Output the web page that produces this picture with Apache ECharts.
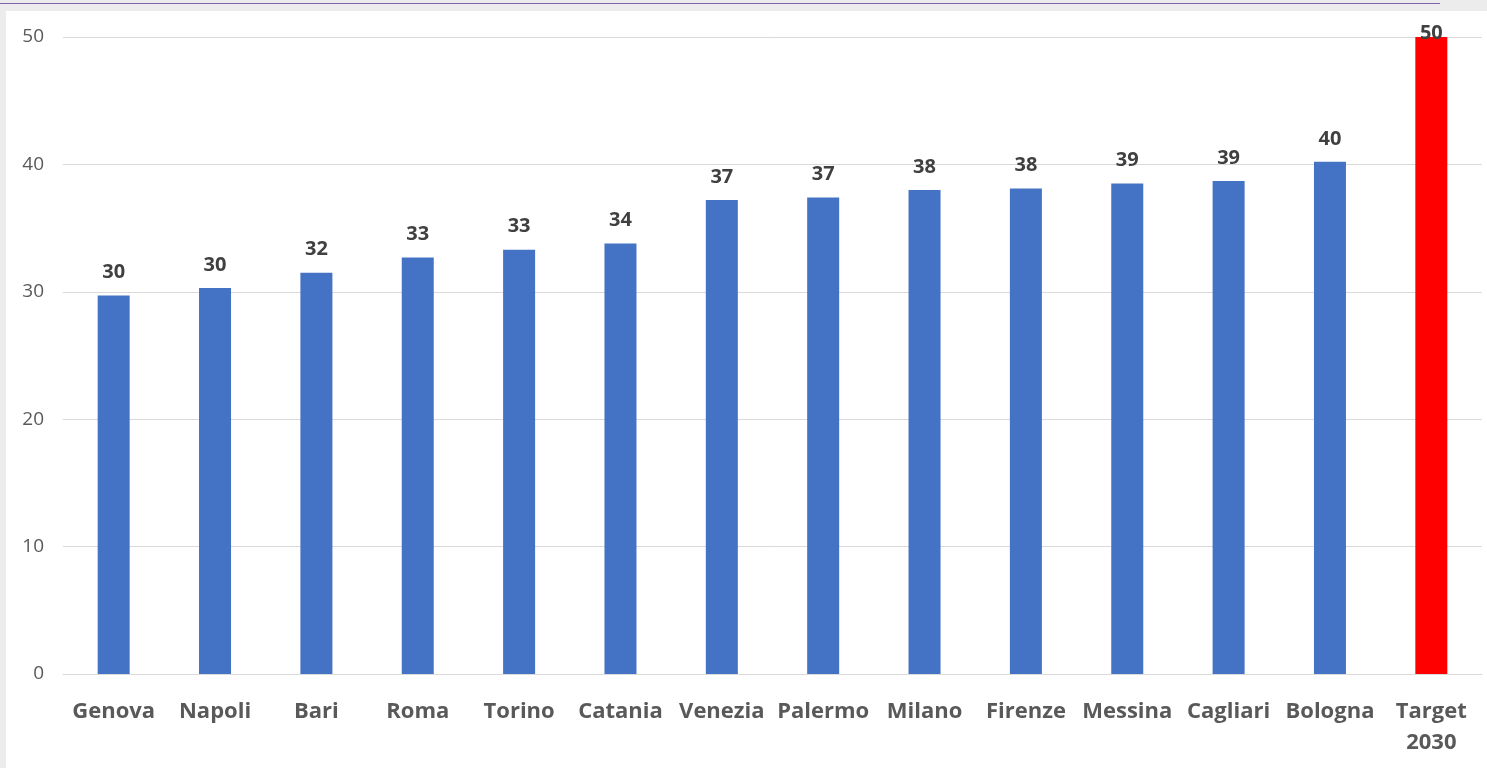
<!DOCTYPE html>
<html>
<head>
<meta charset="utf-8">
<script src="https://cdn.jsdelivr.net/npm/echarts@6/dist/echarts.min.js"></script>
<style>
html,body{margin:0;padding:0;background:#ececec;width:1487px;height:768px;overflow:hidden;}
#topline{position:absolute;left:0;top:3px;width:1440px;height:1px;background:#7f62b0;}
#chart{position:absolute;left:6px;top:11px;width:1481px;height:757px;background:#fff;}
</style>
</head>
<body>
<div id="topline"></div>
<div id="chart"></div>
<script>
const categories = ['Genova','Napoli','Bari','Roma','Torino','Catania','Venezia','Palermo','Milano','Firenze','Messina','Cagliari','Bologna','Target\n2030'];
const values = [29.7, 30.3, 31.5, 32.7, 33.3, 33.8, 37.2, 37.4, 38.0, 38.1, 38.5, 38.7, 40.2, 50];
const yTicks = {min: 0, max: 50, interval: 10};

const chart = echarts.init(document.getElementById('chart'));
const data = values.map((v, i) => {
  const isTarget = i === values.length - 1;
  return {
    value: v,
    itemStyle: {color: isTarget ? '#ff0000' : '#4472c4'},
    label: isTarget ? {distance: -6} : undefined
  };
});
chart.setOption({
  animation: false,
  grid: {left: 57, right: 5, top: 26, bottom: 94, containLabel: false},
  xAxis: {
    type: 'category',
    data: categories,
    axisLine: {lineStyle: {color: '#d9d9d9', width: 1}},
    axisTick: {show: false},
    axisLabel: {
      color: '#595959', fontSize: 22, fontWeight: 'bold', fontFamily: 'Open Sans',
      margin: 22, lineHeight: 31, interval: 0
    }
  },
  yAxis: {
    type: 'value',
    min: yTicks.min, max: yTicks.max, interval: yTicks.interval,
    axisLine: {show: false},
    axisTick: {show: false},
    splitLine: {lineStyle: {color: '#d9d9d9', width: 1}},
    axisLabel: {color: '#595959', fontSize: 19, fontFamily: 'Open Sans', margin: 19}
  },
  series: [{
    type: 'bar',
    data: data,
    barWidth: 32,
    label: {
      show: true, position: 'top', distance: 13,
      color: '#404040', fontSize: 20, fontWeight: 'bold', fontFamily: 'Open Sans',
      formatter: p => Math.round(p.value)
    }
  }]
});
</script>
</body>
</html>
